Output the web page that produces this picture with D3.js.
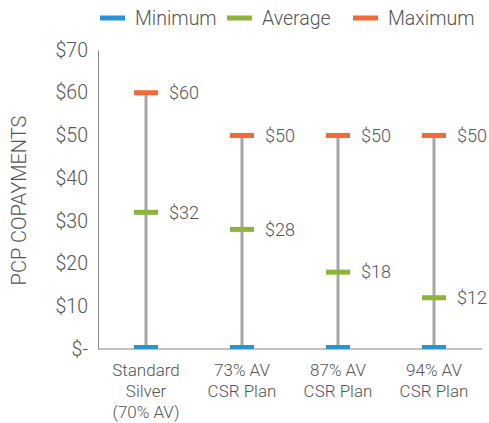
<!DOCTYPE html>
<html lang='en'>
<head>
  <meta charset='UTF-8'>
  <title>PCP Copayments</title>
  <style>
  body { margin: 0; background: #fff; }
  text { font-family: Roboto, 'Liberation Sans', sans-serif; font-weight: 300; fill: #555; }
  .axis path, .axis line { stroke: #858585; }
  </style>
  <script src='https://d3js.org/d3.v7.min.js'></script>
</head>
<body>
  <script>

  var categories = [['Standard', 'Silver', '(70% AV)'], ['73% AV', 'CSR Plan'], ['87% AV', 'CSR Plan'], ['94% AV', 'CSR Plan']];
  var minimum = [0, 0, 0, 0];
  var average = [32, 28, 18, 12];
  var maximum = [60, 50, 50, 50];
  var yTicks = [0, 10, 20, 30, 40, 50, 60, 70];

  var series = [
    { name: 'Minimum', values: minimum, color: '#2a93d5' },
    { name: 'Average', values: average, color: '#8db438' },
    { name: 'Maximum', values: maximum, color: '#f26b36' }
  ];

  var svgWidth = 489, svgHeight = 423;
  var margin = { top: 50, right: 7, bottom: 74, left: 98 };
  var width = svgWidth - margin.left - margin.right;
  var height = svgHeight - margin.top - margin.bottom;

  var svg = d3.select('body').append('svg').attr('width', svgWidth).attr('height', svgHeight);
  var g = svg.append('g').attr('transform', 'translate(' + margin.left + ',' + margin.top + ')');

  var x = d3.scaleBand().domain(d3.range(categories.length)).range([0, width]);
  var y = d3.scaleLinear().domain([0, 70]).range([height, 0]);

  // axes

  var yAxis = g.append('g')
    .attr('class', 'axis')
    .call(d3.axisLeft(y).tickValues(yTicks).tickSize(0).tickPadding(10)
      .tickFormat(function (d) { return d === 0 ? '$-' : '$' + d; }));
  yAxis.selectAll('text').style('font-size', '19.5px');

  var xAxis = g.append('g')
    .attr('class', 'axis')
    .attr('transform', 'translate(0,' + height + ')')
    .call(d3.axisBottom(x).tickSize(0).tickFormat(''));
  xAxis.select('.domain').attr('d', 'M0,0H' + width);

  xAxis.selectAll('.tick').each(function (d) {
    var t = d3.select(this).append('text')
      .attr('text-anchor', 'middle')
      .style('font-size', '17px');
    categories[d].forEach(function (line, i) {
      t.append('tspan').attr('x', 0).attr('y', 27 + i * 21).text(line);
    });
  });

  // stems

  g.selectAll('.stem')
    .data(categories)
    .enter()
    .append('line')
    .attr('x1', function (d, i) { return x(i) + x.bandwidth() / 2; })
    .attr('x2', function (d, i) { return x(i) + x.bandwidth() / 2; })
    .attr('y1', function (d, i) { return y(minimum[i]); })
    .attr('y2', function (d, i) { return y(maximum[i]); })
    .attr('stroke', '#a6a6a6')
    .attr('stroke-width', 3);

  // markers

  series.forEach(function (s) {
    g.selectAll('.m-' + s.name)
      .data(s.values)
      .enter()
      .append('rect')
      .attr('x', function (d, i) { return x(i) + x.bandwidth() / 2 - 12; })
      .attr('y', function (d) { return s.name === 'Minimum' ? y(d) - 4 : y(d) - 2.5; })
      .attr('width', 24)
      .attr('height', function () { return s.name === 'Minimum' ? 4 : 5; })
      .attr('fill', s.color);

    if (s.name !== 'Minimum') {
      g.selectAll('.l-' + s.name)
        .data(s.values)
        .enter()
        .append('text')
        .attr('x', function (d, i) { return x(i) + x.bandwidth() / 2 + 23; })
        .attr('y', function (d) { return y(d); })
        .attr('dy', '0.35em')
        .style('font-size', '18px')
        .text(function (d) { return '$' + d; });
    }
  });

  // y label

  svg.append('text')
    .attr('transform', 'translate(26,' + (margin.top + height / 2 + 1) + ') rotate(-90)')
    .attr('text-anchor', 'middle')
    .style('font-size', '20px')
    .text('PCP COPAYMENTS');

  // legend

  var legendX = [100, 227, 353];
  var legend = svg.selectAll('.legend')
    .data(series)
    .enter()
    .append('g')
    .attr('transform', function (d, i) { return 'translate(' + legendX[i] + ',18)'; });
  legend.append('rect').attr('width', 25).attr('height', 5).attr('y', -2.5).attr('fill', function (d) { return d.color; });
  legend.append('text').attr('x', 35).attr('dy', '0.35em').style('font-size', '19.5px').text(function (d) { return d.name; });
  </script>
</body>
</html>
